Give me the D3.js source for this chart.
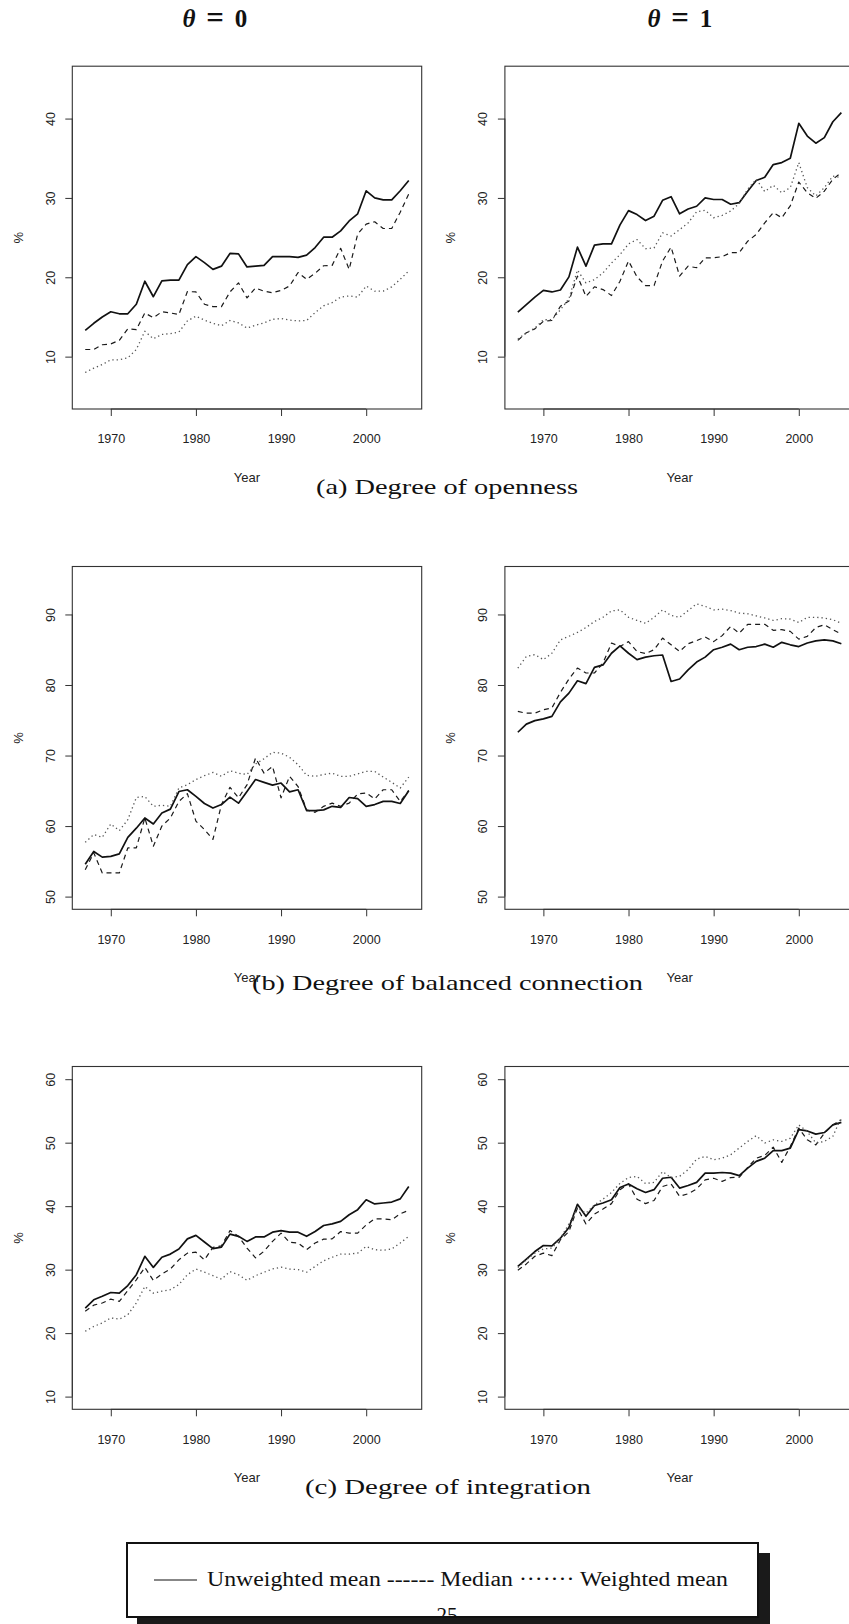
<!DOCTYPE html>
<html><head><meta charset="utf-8">
<script src="https://cdn.jsdelivr.net/npm/d3@7"></script>
<style>body{margin:0;background:#fff} svg{display:block}</style>
</head><body>
<script>
// ---------- DATA ----------
const years = [1967,1968,1969,1970,1971,1972,1973,1974,1975,1976,1977,1978,1979,1980,1981,1982,1983,1984,1985,1986,1987,1988,1989,1990,1991,1992,1993,1994,1995,1996,1997,1998,1999,2000,2001,2002,2003,2004,2005];
const xTicks = [1970,1980,1990,2000];
const seriesNames = ["Unweighted mean","Median","Weighted mean"];
const columnTitles = ["0","1"];
const captions = ["(a) Degree of openness","(b) Degree of balanced connection","(c) Degree of integration"];

// (a) openness, theta = 0
const openUnw0 = [13.3,14.2,15.0,15.65,15.4,15.4,16.6,19.5,17.55,19.55,19.65,19.65,21.6,22.6,21.85,21.0,21.4,23.0,22.95,21.3,21.4,21.5,22.6,22.6,22.6,22.5,22.8,23.75,25.05,25.05,25.85,27.1,28.0,30.9,30.0,29.75,29.75,30.9,32.2];
const openMed0 = [10.9,10.9,11.5,11.6,12.05,13.5,13.4,15.5,14.9,15.65,15.5,15.3,18.2,18.15,16.6,16.3,16.3,18.15,19.3,17.4,18.65,18.25,18.05,18.35,18.9,20.6,19.75,20.5,21.45,21.5,23.65,21.0,25.45,26.7,27.0,26.15,26.15,28.2,30.5];
const openWgt0 = [8.0,8.55,9.0,9.6,9.6,9.85,10.9,13.2,12.25,12.8,12.9,13.1,14.5,15.1,14.6,14.2,13.9,14.55,14.25,13.6,13.95,14.25,14.7,14.8,14.6,14.5,14.55,15.55,16.4,16.8,17.5,17.65,17.5,18.9,18.25,18.25,18.8,19.75,20.8];
// (a) openness, theta = 1
const openUnw1 = [15.6,16.55,17.5,18.35,18.15,18.4,20.05,23.8,21.4,24.05,24.2,24.2,26.6,28.4,27.9,27.15,27.7,29.7,30.15,28.0,28.6,28.95,30.0,29.8,29.8,29.2,29.4,30.85,32.2,32.6,34.2,34.45,35.0,39.4,37.8,36.9,37.6,39.6,40.75];
const openMed1 = [12.05,13.0,13.5,14.45,14.55,16.35,17.0,20.15,17.6,18.8,18.45,17.7,19.5,22.05,20.05,18.95,18.95,22.05,23.8,20.15,21.4,21.2,22.45,22.45,22.6,23.1,23.1,24.55,25.4,26.85,28.15,27.5,29.0,32.0,30.65,29.95,30.85,32.35,33.2];
const openWgt1 = [12.2,13.0,13.6,14.65,14.65,15.9,17.3,20.9,19.3,19.7,20.55,21.8,22.85,24.2,24.75,23.6,23.7,25.6,25.2,26.0,26.85,28.25,28.45,27.5,27.8,28.35,29.3,31.1,32.35,30.8,31.6,30.65,31.3,34.45,31.3,30.25,31.3,32.75,32.55];
// (b) balanced connection, theta = 0
const balUnw0 = [54.6,56.4,55.6,55.7,56.05,58.4,59.7,61.15,60.3,61.85,62.4,64.9,65.15,64.2,63.2,62.55,63.05,64.1,63.25,64.9,66.6,66.2,65.8,66.1,64.85,65.15,62.2,62.2,62.3,62.8,62.65,64.05,63.9,62.8,63.05,63.5,63.5,63.2,65.0];
const balMed0 = [53.8,56.2,53.35,53.35,53.35,56.9,56.9,61.15,57.15,60.0,61.15,63.5,64.6,60.7,59.5,58.1,63.05,65.5,64.0,65.85,69.65,67.5,68.45,64.0,67.05,65.6,62.3,61.95,62.8,63.25,62.8,63.25,64.55,64.7,63.85,65.15,65.15,63.5,65.05];
const balWgt0 = [57.7,58.8,58.4,60.3,59.35,60.9,64.05,64.2,62.8,62.95,62.8,65.4,65.85,66.6,67.15,67.6,67.05,67.85,67.5,67.3,68.8,69.55,70.45,70.35,69.75,68.7,67.2,67.05,67.3,67.5,67.05,67.05,67.4,67.75,67.75,66.95,66.2,65.4,66.95];
// (b) balanced connection, theta = 1
const balUnw1 = [73.3,74.45,74.95,75.2,75.55,77.6,78.85,80.6,80.2,82.5,82.85,84.5,85.55,84.5,83.6,83.95,84.15,84.25,80.5,80.85,82.15,83.25,83.95,85.0,85.35,85.8,85.0,85.35,85.45,85.8,85.35,86.05,85.7,85.45,85.95,86.25,86.4,86.25,85.85];
const balMed1 = [76.25,76.0,76.0,76.5,76.75,78.95,80.85,82.4,81.7,81.7,83.1,85.95,85.45,86.15,84.75,84.45,85.0,86.65,85.7,84.75,85.85,86.3,86.8,86.15,87.0,88.3,87.35,88.6,88.6,88.6,87.75,87.85,87.6,86.5,86.9,88.15,88.55,87.85,87.2];
const balWgt1 = [82.4,84.05,84.3,83.6,84.5,86.4,86.9,87.45,88.15,89.0,89.6,90.5,90.65,89.6,89.15,88.75,89.6,90.65,89.85,89.6,90.55,91.5,91.15,90.65,90.75,90.55,90.2,90.1,89.8,89.5,89.15,89.4,89.35,88.85,89.6,89.6,89.5,89.25,88.75];
// (c) integration, theta = 0
const intUnw0 = [23.95,25.25,25.8,26.4,26.3,27.5,29.2,32.1,30.35,31.95,32.45,33.25,34.85,35.4,34.35,33.3,33.55,35.6,35.25,34.45,35.15,35.15,35.9,36.15,35.9,35.9,35.25,36.0,36.95,37.2,37.6,38.65,39.45,41.0,40.35,40.5,40.65,41.15,43.1];
const intMed0 = [23.45,24.4,24.75,25.35,25.0,26.7,28.4,30.35,28.3,29.3,30.1,31.55,32.6,32.75,31.55,33.5,33.75,36.15,35.25,33.4,31.85,32.9,34.45,35.75,34.3,34.2,33.15,34.2,34.8,34.85,36.0,35.75,35.75,37.05,38.0,38.0,37.85,38.8,39.35];
const intWgt0 = [20.3,21.05,21.6,22.4,22.2,22.9,24.75,27.35,26.3,26.6,26.85,27.65,29.2,30.1,29.6,29.05,28.5,29.7,29.2,28.3,29.05,29.6,30.1,30.4,30.1,30.0,29.6,30.5,31.4,31.95,32.45,32.45,32.6,33.65,33.15,33.05,33.25,34.2,35.25];
// (c) integration, theta = 1
const intUnw1 = [30.5,31.65,32.85,33.8,33.75,34.95,36.65,40.3,38.4,40.1,40.5,41.0,42.95,43.5,42.75,42.15,42.6,44.4,44.55,42.85,43.25,43.75,45.2,45.2,45.3,45.2,44.8,46.0,47.05,47.55,48.75,48.75,49.15,52.05,51.85,51.35,51.6,52.8,53.2];
const intMed1 = [29.9,30.9,32.1,32.6,32.2,34.7,36.0,39.7,37.2,38.75,39.55,40.4,42.6,43.5,41.1,40.4,40.9,43.1,43.5,41.55,41.95,42.7,44.15,44.4,43.9,44.5,44.55,46.1,47.55,48.0,49.3,46.9,49.4,52.3,50.45,49.65,51.5,52.8,53.6];
const intWgt1 = [30.35,31.55,32.6,33.25,33.4,34.95,37.2,39.7,38.9,40.2,41.1,42.15,43.6,44.5,44.7,43.55,43.75,45.45,44.5,44.7,45.75,47.4,47.85,47.3,47.55,48.1,49.15,50.2,51.1,49.95,50.45,50.2,50.7,52.8,51.75,49.95,50.2,51.0,54.0];

const yTicksOpen = [10,20,30,40];
const yTicksBal = [50,60,70,80,90];
const yTicksInt = [10,20,30,40,50,60];
const yLimOpen = [5,45];
const yLimBal = [50,95];
const yLimInt = [10,60];

// ---------- DRAWING ----------
const SANS = "'Liberation Sans', Arial, Helvetica, sans-serif";
const SERIF = "'Liberation Serif', 'DejaVu Serif', serif";
const svg = d3.select("body").append("svg").attr("width",849).attr("height",1624)
  .style("background","#fff");

const styles = [
  {stroke:"#111", width:1.7, dash:null},
  {stroke:"#1a1a1a", width:1.2, dash:"5,4"},
  {stroke:"#555", width:1.3, dash:"1.3,3"}
];

const W = 349.4, H = 342.8;
function panel(x0, y0, ylim, yticks, data){
  const g = svg.append("g");
  const x = d3.scaleLinear().domain([1965.48, 2006.52]).range([x0, x0+W]);
  const span = ylim[1]-ylim[0];
  const y = d3.scaleLinear().domain([ylim[0]-0.04*span, ylim[1]+0.04*span]).range([y0+H, y0]);

  data.forEach((vals,k)=>{
    const line = d3.line().x((d,i)=>x(years[i])).y(d=>y(d));
    const p = g.append("path").datum(vals).attr("d",line)
      .attr("fill","none").attr("stroke",styles[k].stroke)
      .attr("stroke-width",styles[k].width).attr("stroke-linejoin","round");
    if(styles[k].dash) p.attr("stroke-dasharray",styles[k].dash);
  });

  g.append("rect").attr("x",x0).attr("y",y0).attr("width",W).attr("height",H)
    .attr("fill","none").attr("stroke","#333").attr("stroke-width",1.1);

  const xa = g.append("g").attr("transform",`translate(0,${y0+H})`)
    .call(d3.axisBottom(x).tickValues(xTicks).tickFormat(d3.format("d")).tickSize(7).tickSizeOuter(0).tickPadding(18.5));
  xa.select(".domain").attr("d",`M${x(xTicks[0])},0H${x(xTicks[xTicks.length-1])}`).attr("stroke","#333");
  xa.selectAll(".tick line").attr("stroke","#333");
  xa.selectAll("text").attr("font-family",SANS).attr("font-size","12.5px").attr("fill","#222");

  const ya = g.append("g").attr("transform",`translate(${x0},0)`)
    .call(d3.axisLeft(y).tickValues(yticks).tickSize(7).tickSizeOuter(0));
  ya.select(".domain").attr("d",`M0,${y(yticks[0])}V${y(yticks[yticks.length-1])}`).attr("stroke","#333");
  ya.selectAll(".tick line").attr("stroke","#333");
  ya.selectAll("text").attr("transform","rotate(-90)").attr("x",0).attr("y",-17.8).attr("dy",null)
    .attr("text-anchor","middle").attr("font-family",SANS).attr("font-size","12.5px").attr("fill","#222");

  g.append("text").attr("x",x0+W/2).attr("y",y0+H+72.5).attr("text-anchor","middle")
    .attr("font-family",SANS).attr("font-size","13px").attr("fill","#222").text("Year");
  g.append("text").attr("transform",`translate(${x0-49.5},${y0+H/2}) rotate(-90)`)
    .attr("text-anchor","middle").attr("font-family",SANS).attr("font-size","13px").attr("fill","#222").text("%");
}

const colX = [72.3, 504.9];
const rowY = [66.2, 566.5, 1066.5];
panel(colX[0], rowY[0], yLimOpen, yTicksOpen, [openUnw0, openMed0, openWgt0]);
panel(colX[1], rowY[0], yLimOpen, yTicksOpen, [openUnw1, openMed1, openWgt1]);
panel(colX[0], rowY[1], yLimBal, yTicksBal, [balUnw0, balMed0, balWgt0]);
panel(colX[1], rowY[1], yLimBal, yTicksBal, [balUnw1, balMed1, balWgt1]);
panel(colX[0], rowY[2], yLimInt, yTicksInt, [intUnw0, intMed0, intWgt0]);
panel(colX[1], rowY[2], yLimInt, yTicksInt, [intUnw1, intMed1, intWgt1]);

// column titles  θ = 0 / θ = 1
const titleCenters = [214, 679];
columnTitles.forEach((t,i)=>{
  const c = titleCenters[i];
  const tg = svg.append("g").attr("font-family",SERIF).attr("font-weight","bold").attr("fill","#111");
  tg.append("text").attr("x",c-25).attr("y",27).attr("font-size","25px").attr("text-anchor","middle").attr("font-style","italic").text("θ");
  tg.append("text").attr("x",c+1).attr("y",28).attr("font-size","31px").attr("text-anchor","middle").text("=");
  tg.append("text").attr("x",c+27).attr("y",27).attr("font-size","25px").attr("text-anchor","middle").text(t);
});

// captions
const capPos = [[316,494,262],[252,990,391],[305,1494,286]];
captions.forEach((c,i)=>{
  svg.append("text").attr("x",capPos[i][0]).attr("y",capPos[i][1])
    .attr("font-family",SERIF).attr("font-size","22px").attr("fill","#111")
    .attr("textLength",capPos[i][2]).attr("lengthAdjust","spacingAndGlyphs").text(c);
});

// legend box with shadow
svg.append("rect").attr("x",137).attr("y",1553).attr("width",633).attr("height",80).attr("fill","#1a1a1a");
svg.append("rect").attr("x",127).attr("y",1543).attr("width",631).attr("height",74).attr("fill","#fff");
svg.append("clipPath").attr("id","boxclip").append("rect").attr("x",127).attr("y",1543).attr("width",631).attr("height",73);
svg.append("text").attr("x",447).attr("y",1622).attr("text-anchor","middle").attr("clip-path","url(#boxclip)")
  .attr("font-family",SERIF).attr("font-size","21px").attr("fill","#111").text("25");
svg.append("rect").attr("x",127).attr("y",1543).attr("width",631).attr("height",74)
  .attr("fill","none").attr("stroke","#111").attr("stroke-width",2);
svg.append("line").attr("x1",154).attr("x2",197).attr("y1",1580).attr("y2",1580)
  .attr("stroke","#111").attr("stroke-width",1.2);
svg.append("text").attr("x",207).attr("y",1586).attr("font-family",SERIF).attr("font-size","20px").attr("fill","#111")
  .attr("textLength",521).attr("lengthAdjust","spacingAndGlyphs")
  .text(`${seriesNames[0]} ------ ${seriesNames[1]} ······· ${seriesNames[2]}`);
</script>
</body></html>
